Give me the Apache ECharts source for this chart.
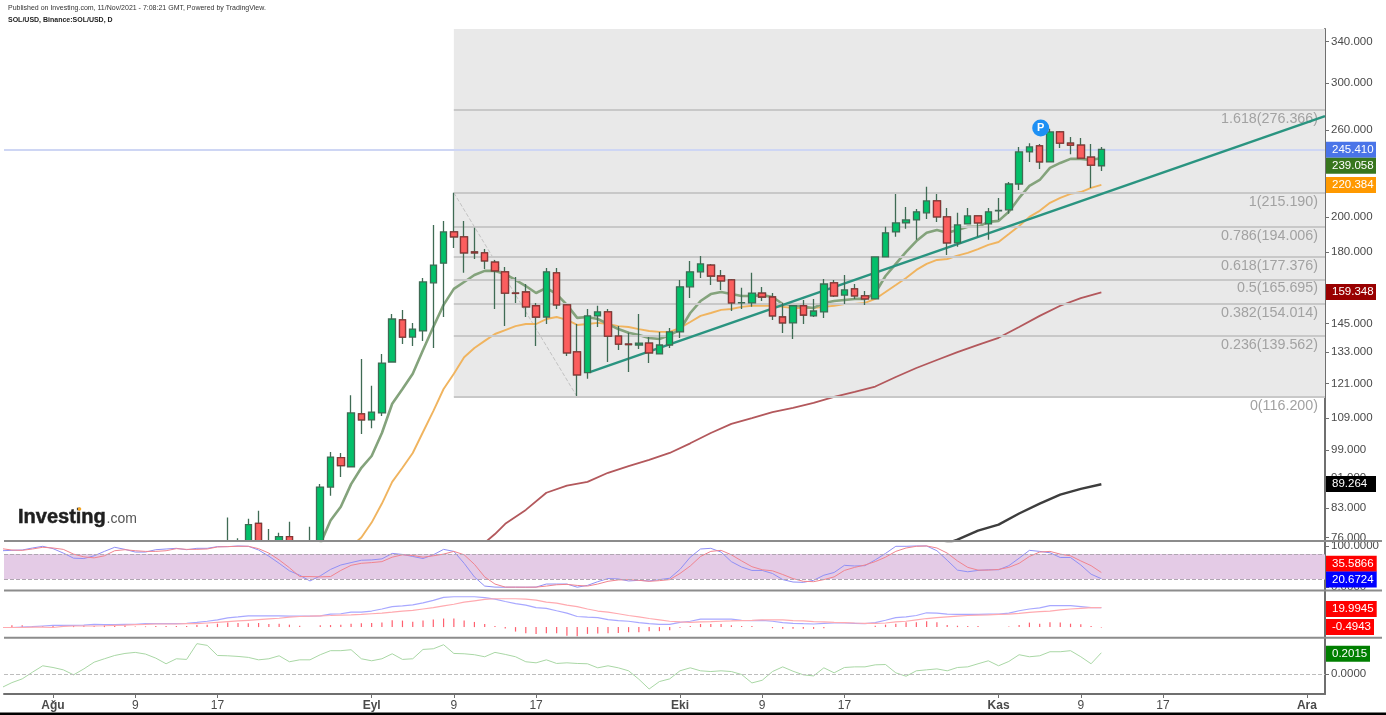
<!DOCTYPE html>
<html><head><meta charset="utf-8">
<style>html,body{margin:0;padding:0;background:#fff}#c{width:1386px;height:715px}</style>
<script src="https://cdn.jsdelivr.net/npm/echarts@6/dist/echarts.min.js"></script>
</head><body><div id="c"></div>
<script>
// ---- axis content
const dayTicks = [0,8,16,31,39,47,61,69,77,92,100,108,122];
const dayLabels = ['Ağu','9','17','Eyl','9','17','Eki','9','17','Kas','9','17','Ara'];
const priceTicks = [340,300,260,200,180,145,133,121,109,99,91,83,76];
// ---- candles: day (0 = 1 Aug), open, close, low, high
// the parts that run below the pane are not readable and stop at the pane floor (75.3)
const ohlc = [
[17,75.3,75.3,75.3,80.7],[18,75.3,75.3,75.3,75.8],[19,75.3,79,75.3,80.4],[20,79.3,75.3,75.3,82.4],[21,75.3,75.3,75.3,78],[22,75.3,76.2,75.3,77.1],[23,76.2,75.3,75.3,79.7],[25,75.3,75.3,75.3,78.5],
[26,75.3,88.5,75.3,89.3],[27,88.5,96.9,86.2,98.4],[28,96.7,94.4,91.2,98.1],[29,94.1,110.7,94,116.8],[30,110.4,108.4,103.9,130.3],[31,108.4,111,105.7,120.2],[32,110.7,128.7,109.7,132.3],[33,129.1,147,129.1,149.3],[34,146.6,139.2,136.3,151.1],[35,139.2,142.6,135.5,145.3],
[36,141.8,164.4,137.6,166.4],[37,164,173,134.7,195.3],[38,174,191.2,147.9,197.7],[39,191.2,188.4,182.2,215.2],[40,188.4,179.5,169,197.7],[41,180,179.5,176.2,193.6],[42,179.5,175.2,171,181.6],[43,174.6,170,151.5,175.7],[44,169.5,159,143.9,172],[45,159,158.8,154.3,166.9],
[46,159.5,152.5,147.9,163.4],[47,153,147.9,135.5,154.3],[48,147.9,169.5,144.8,171.5],[49,169,153.4,151.5,171.5],[50,153.4,132.7,131.5,153.8],[51,133.1,124.2,116.5,144.8],[52,125,148.4,122.7,151.5],[53,148.4,150.2,143.5,153],[54,150.2,139.6,129.1,151.5],[55,139.6,136.3,133.9,143.9],
[56,136.3,136.1,125.3,141],[57,135.9,136.7,134.3,149.3],[58,136.7,132.7,128.7,139.2],[59,132.3,135.9,132.3,141.4],[60,135.9,141.4,134.7,143.1],[61,141.4,162,138.8,165.4],[62,162,169.5,156.6,175.2],[63,169.5,173.6,166.4,177.8],[64,173,167.4,162.9,173.6],[65,167.4,164.9,160.5,170.5],
[66,165.4,154.3,150.6,165.9],[67,154.3,154.5,151.5,161.5],[68,154.3,159,152.5,169],[69,159,157.1,155.2,161.9],[70,157.1,148.4,146.6,159],[71,147.9,145.3,140.9,154.3],[72,145.3,153,138.4,153.4],[73,153,148.8,144.8,155.7],[74,148.4,150.6,147.9,156.2],[75,150.2,163.4,147.5,165.9],
[76,164,157.6,157.1,165.4],[77,158,160.5,153.8,167.9],[78,161,157.6,156.2,163.4],[79,157.6,156.2,153.4,160],[80,156.2,177.3,156.2,177.3],[81,177.3,190.7,177.3,194.2],[82,191.2,196.5,188.4,214.5],[83,196.5,198.3,193,206.2],[84,198.3,203.2,186.7,205],[85,202.6,210,198.9,219.1],
[86,210,200.1,197.1,214.5],[87,200.1,185,178.4,205.6],[88,185,195.3,182.8,202.6],[89,195.9,200.7,195.9,205.6],[90,200.7,196.5,188.4,200.7],[91,195.9,203.2,186.7,205.6],[92,203.8,204,198.3,211.9],[93,204.4,221,202,222.4],[94,221,243.5,217.1,247.2],[95,243.5,247.2,236.2,250],
[96,248,236.2,231.3,249.4],[97,236.2,258.6,236,261.1],[98,258.6,250,246.4,259.4],[99,250,248.5,241.8,254.6],[100,248.5,239,239,254],[101,239.7,233.9,218.4,249.4],[102,233.5,245.41,229.9,247.2]
];
// ---- moving averages
const fastMaStart = 26;
const fastMa = [74.5,80,83.4,89.3,93.8,97.2,104.2,113.8,119,124.6,133.9,143.5,153.4,161,
164.4,167.9,170,170,168.4,165.4,162.4,159,161.5,158.5,
153.4,147.5,147.9,147,144.8,142.6,141,140.1,138.8,138.4,
140.1,142.2,149.7,155.2,158.5,159.5,158.5,157.6,157.6,158,
157.1,153.8,153.4,152.5,152,154.3,155.2,155.7,156.2,156.2,
159,167.4,173.6,180,186,190.7,192.4,190.7,192.4,194.2,
194.2,197.1,197.7,203.2,211.9,219.8,223.7,232,235.5,238.4,
238.4,237.6,239.058];
const midMaStart = 29;
const midMa = [74,76,79.5,84.2,89.9,93.8,98.1,104.5,111.3,119,124.6,
131,134.7,137.6,140.5,142.2,143.9,144.8,144.8,147,147.9,
146.6,144.4,144.8,145.3,144.8,143.9,143.5,142.6,141.8,141.4,
141.4,143.1,145.7,148.4,149.7,151.1,151.5,152.5,153,153,
153,152.5,152,152,152,152.5,153,153.8,153.8,154.3,
156.2,159.5,162.9,166.4,170.5,173.6,175.7,176.2,178,179.5,
181.6,183.9,185.5,190,194.7,200.1,203.8,208.8,211.9,214.5,
215.7,218.4,220.384];
const slowMaDays = [42,43,44,46,48,50,52,54,56,58,60,62,64,66,68,70,72,74,76,78,80,82,84,86,88,90,92,94,96,98,100,102];
const slowMa = [74.8,76.8,79.2,82.6,87,88.9,89.9,92.4,94.3,96.1,98.1,101,104.2,107.1,109,111,112.4,114.1,116.2,118,119.9,123.4,126.8,129.9,133,136,138.9,143.5,148.4,153,156.6,159.348];
const longMaDays = [86,88,90,92,94,96,98,100,102];
const longMa = [73.9,75.5,77.6,79,81.7,84.2,86.5,88,89.264];
// ---- drawing tools
const fibRatios = ['1.618','1','0.786','0.618','0.5','0.382','0.236','0'];
const fibLevels = [276.366,215.19,194.006,177.376,165.695,154.014,139.562,116.2];
const fibStartDay = 39;
const fibSwing = [[39,215.19],[51,116.2]];
const trendLine = [[52.3,125.3],[123.76,271.3]];
const lastPrice = 245.41;
const pivotMark = [96.1,261.7];
// ---- indicators, first day = -5
const indicatorStart = -5;
const stochK = [88.2,89.1,89.9,94.8,98.9,93.2,82.5,70.2,69.3,75.9,
86.6,96.5,91.5,85,85,90.7,92.4,94,90.7,94,
94,98.1,98.1,99.7,98.9,89.9,75.1,57.8,39.7,29,
15.1,27.4,43,53.7,59.5,65.2,66,68.5,81.7,79.2,
74.3,69.3,78.4,91.5,86.6,57.8,24.9,2.8,0.3,0.1,
0.2,0.1,0.3,7.7,7.7,7.7,0.1,4.4,13.4,20.8,
20,15.1,16.7,15.1,18.4,21.7,43,72.6,92.4,94,
85,61.9,48.8,40.6,40.6,33.2,18.4,12.6,11.8,16.7,
29,35.6,52.9,51.3,52.1,66,81.7,98.9,98.9,99.7,
99.7,88.2,65.2,41.4,37.3,40.6,42.2,42.2,52.1,70.2,
89.1,86.6,83.3,71.8,71.8,53.7,31.5,20.6724];
const stochD = [93.2,89.9,89.1,92.4,96.5,94.8,91.5,80,73.4,71,
75.9,88.2,90.7,88.2,86.6,86.6,88.2,93.2,91.5,91.5,
92.4,97.3,98.1,98.9,98.9,93.2,82.5,66,47.1,25.8,
25.8,25,25.8,40.6,52.9,57.8,59.5,61.9,72.6,78.4,
76.7,72.6,75.9,80,86.6,78.4,55.4,25,7.7,0.3,
0.2,0.1,0.2,2.8,6,6.9,4.4,2.8,7.7,14.3,
17.6,18.4,16.7,14.3,15.9,18.4,33.2,51.3,74.3,86.6,
89.1,78.4,63.6,49.6,42.2,39.7,30.7,20.8,14.3,13.4,
18.4,25,40.6,48,53.7,61.9,72.6,86.6,94.8,98.9,
99.7,94.8,82.5,63.6,48,41.4,41.4,43,48,57.8,
74.3,85,86.6,80,75.9,63.6,52.1,35.5866];
const macdLine = [-0.4,-0.4,0,0.4,1.1,1.8,1.8,1.8,2.1,2.8,
2.5,2.5,2.8,2.8,3.5,3.5,3.5,3.5,3.9,4.9,
6,7.4,9.5,10.5,11.6,11.6,11.6,11.6,11.2,11.2,
11.2,11.6,13.3,13.7,15.4,15.4,16.5,18.6,21.1,21.8,
22.8,24.9,27.4,30.5,31.2,31.2,31.2,30.2,28.8,26.3,
24.2,22.5,20,19.3,16.8,14.4,10.9,10.2,9.8,7.7,
6.7,6,4.6,3.5,2.8,2.8,4.9,6,8.1,8.1,
8.1,8.1,7,6.7,7,6,4.6,3.9,3.5,3.2,
3.9,4.2,4.2,3.9,3.5,4.6,7,9.8,10.5,11.9,
14.7,14.4,13.3,13,13,13,13.3,13.3,14.4,16.8,
18.6,19.7,22.1,22.1,22.1,21.1,20,19.99];
const macdSignal = [-0.4,-0.4,-0.4,0,0,-0.4,0.7,1.1,1.1,1.1,
1.4,1.8,2.1,2.5,2.8,3.2,3.2,3.2,3.5,3.5,
4.2,4.9,5.6,6.3,7,7.7,8.4,9.1,10.2,10.9,
11.2,11.6,11.9,12.3,12.6,13,13.7,14.4,15.4,16.5,
17.2,18.6,20,21.8,23.5,25.6,27,28.4,29.1,29.1,
29.1,28.8,27.7,25.6,24.6,22.5,21.1,18.6,16.5,15.4,
13.7,11.9,10.5,8.8,7.4,6,5.3,4.9,5.3,5.6,
6,6.3,6.7,7,7.4,7.4,7.4,6.7,6.3,5.6,
5.3,4.9,4.6,4.2,3.9,3.9,4.2,5.3,6,7.4,
8.8,9.8,10.5,11.2,11.9,12.3,12.6,13,13.3,14,
15.1,15.8,16.5,17.6,18.6,19.3,20,19.9945];
const macdHist = [0,1.8,1.8,1.1,1.1,1.8,1.8,1.8,1.8,1.1,
1.8,1.8,1.8,0.7,0.7,1.1,1.1,1.1,1.1,2.1,
2.5,3.5,4.6,4.2,3.9,4.2,3.2,3.5,2.5,1.4,
0,1.8,2.1,2.5,3.5,3.9,4.2,4.6,7,6.7,
5.6,6.7,7.7,8.8,8.8,6.7,5.3,3.2,1.1,-1.4,
-4.6,-6.3,-7,-6.3,-6.3,-8.8,-9.5,-7,-6.7,-6.3,
-6,-5.3,-5.3,-4.2,-4.2,-3.2,-0.7,1.1,3.2,3.2,
3.2,1.8,1.1,1.1,0,-1.1,-1.8,-1.8,-1.8,-1.8,
-1.1,0,0,0,0,1.4,2.5,3.5,4.9,4.9,
6,4.9,2.1,1.4,1.1,1.1,0,0,0.7,2.1,
4.6,3.5,4.9,4.6,3.5,2.8,1.1,-0.4943];
const momentum = [-0.126,-0.079,-0.044,0.019,0.079,0.063,0.041,-0.006,0.05,0.113,
0.145,0.176,0.195,0.205,0.189,0.151,0.098,0.145,0.139,0.287,
0.271,0.176,0.173,0.167,0.158,0.135,0.145,0.173,0.117,0.135,
0.135,0.183,0.221,0.221,0.23,0.145,0.126,0.145,0.192,0.139,
0.145,0.233,0.239,0.277,0.195,0.192,0.183,0.164,0.205,0.186,
0.164,0.117,0.107,0.135,0.101,0.107,0.101,0.098,0.06,0.079,
0.06,0.032,-0.047,-0.139,-0.069,-0.044,0.032,0.06,0.032,0.025,
0.032,0.025,-0.003,-0.082,-0.057,0.025,0.069,0.028,-0.006,-0.016,
0.06,0.013,0.063,0.069,0.069,0.088,0.091,0.013,-0.019,0.032,
0.041,0.05,0.032,0.063,0.069,0.098,0.126,0.079,0.12,0.183,
0.164,0.173,0.211,0.211,0.221,0.164,0.098,0.2015];
// ---- price tags
const tagTexts = ['245.410','239.058','220.384','159.348','89.264','35.5866','20.6724','19.9945','-0.4943','0.2015'];

// ---- layout
const F = '"Liberation Sans", Arial, sans-serif';
const xMin = -4.77, xMax = 123.76;
const gridL = 4, gridW = 1321;
const AXC = '#6f6f6f', TXT = '#4a4a4a';
const panes = [[29,541],[541,590.5],[590.5,637.7],[637.7,694]];
const grids = panes.map(p => ({left:gridL, width:gridW, top:p[0], height:p[1]-p[0], show:false}));
const xAxes = panes.map((p,i) => ({
  type:'value', gridIndex:i, min:xMin, max:xMax, show:i===3, splitLine:{show:false}, position:'bottom',
  axisLine:{onZero:false, lineStyle:{color:AXC,width:2}},
  axisTick:i===3?{customValues:dayTicks,length:4,lineStyle:{color:AXC,width:1}}:{show:false},
  axisLabel:i===3?{customValues:dayTicks,margin:6,fontFamily:F,fontSize:12,color:TXT,
    formatter:v=>{const l=dayLabels[dayTicks.indexOf(v)]||'';return /\d/.test(l)?l:'{b|'+l+'}';},
    rich:{b:{fontFamily:F,fontSize:12,fontWeight:'bold',color:TXT}},hideOverlap:false}:{show:false}
}));
function yAxis(i,min,max,ticks,fmt,type){
  return {type:type||'value',gridIndex:i,min,max,position:'right',scale:true,splitLine:{show:false},
    logBase:type==='log'?Math.E:undefined,
    axisLine:{show:true,onZero:false,lineStyle:{color:AXC,width:2}},
    axisTick:ticks?{show:true,customValues:ticks,length:4,lineStyle:{color:AXC,width:1}}:{show:false},
    axisLabel:ticks?{show:true,customValues:ticks,margin:6,fontFamily:F,fontSize:11.5,color:TXT,formatter:fmt,hideOverlap:false}:{show:false}};
}
const yAxes = [
  yAxis(0,75.2,352.9,priceTicks,v=>Number(v).toFixed(3),'log'),
  yAxis(1,-7.9,111.7,[0,100],v=>Number(v).toFixed(4)),
  yAxis(2,-10.9,37.6,null),
  yAxis(3,-0.186,0.343,[0],v=>Number(v).toFixed(4))
];
const daily = (arr,start) => arr.map((v,i)=>[start+i,v]);
const paired = (days,arr) => arr.map((v,i)=>[days[i],v]);
function line(name,data,color,width,gi,z,extra){
  return Object.assign({name,type:'line',data,xAxisIndex:gi,yAxisIndex:gi,showSymbol:false,symbol:'none',silent:true,z,
    lineStyle:{color,width},animation:false},extra||{});
}
const fibLines = fibLevels.map((l,i)=>[
  {coord:[fibStartDay,l],name:fibRatios[i]+'('+l.toFixed(3)+')'},
  {coord:[xMax,l]}
]);
const UPW='#3f6b54', DNB='#8a3535';
const series = [
  line('fib',[],'#ccc',1,0,1,{
    markArea:{silent:true,itemStyle:{color:'#e9e9e9'},data:[[{coord:[fibStartDay,352.9]},{coord:[xMax,fibLevels[7]]}]]},
    markLine:{silent:true,symbol:'none',animation:false,lineStyle:{color:'#c8c8c8',width:2,type:'solid'},
      label:{show:true,position:'insideEndBottom',distance:[7,2],formatter:'{b}',fontFamily:F,fontSize:14.3,color:'#a2a2a2'},
      data:fibLines}
  }),
  line('last',[],'#ccc',1,0,2,{markLine:{silent:true,symbol:'none',animation:false,lineStyle:{color:'#ced6f4',width:2,type:'solid'},label:{show:false},data:[[{coord:[xMin,lastPrice]},{coord:[xMax,lastPrice]}]]}}),
  line('swing',fibSwing,'#c2c2c2',1,0,3,{lineStyle:{color:'#c2c2c2',width:1,type:'dashed'}}),
  line('slow',paired(slowMaDays,slowMa),'#b3585c',1.8,0,4),
  line('long',paired(longMaDays,longMa),'#3d3d3d',2.4,0,4),
  line('mid',daily(midMa,midMaStart),'#f0b45f',1.9,0,4),
  line('fast',daily(fastMa,fastMaStart),'#84a37c',2.6,0,4),
  line('trend',trendLine,'#2a9480',2.5,0,5),
  {type:'candlestick',name:'wick',xAxisIndex:0,yAxisIndex:0,z:6,barWidth:7,data:ohlc,encode:{x:0,y:[1,2,3,4]},silent:true,animation:false,
   itemStyle:{color:'#03c06a',color0:'#fb5e5e',borderColor:UPW,borderColor0:UPW,borderWidth:1.3}},
  {type:'candlestick',name:'down',xAxisIndex:0,yAxisIndex:0,z:7,barWidth:7,
   data:ohlc.filter(r=>r[2]<r[1]).map(r=>[r[0],r[1],r[2],r[2],r[1]]),encode:{x:0,y:[1,2,3,4]},silent:true,animation:false,
   itemStyle:{color:'#fb5e5e',color0:'#fb5e5e',borderColor:DNB,borderColor0:DNB,borderWidth:1.3}},
  {type:'scatter',name:'P',xAxisIndex:0,yAxisIndex:0,z:8,data:[pivotMark],symbolSize:17,silent:true,animation:false,
   itemStyle:{color:'#1e90f4',opacity:1},label:{show:true,position:'inside',formatter:'P',color:'#fff',fontFamily:F,fontWeight:'bold',fontSize:11}},
  line('K',daily(stochK,indicatorStart),'#8f8ff5',1,1,3,{
    markArea:{silent:true,itemStyle:{color:'#e4cbe6'},data:[[{coord:[xMin,80]},{coord:[xMax,20]}]]},
    markLine:{silent:true,symbol:'none',animation:false,label:{show:false},lineStyle:{color:'#b0a6b2',width:1,type:'dashed'},data:[[{coord:[xMin,80]},{coord:[xMax,80]}],[{coord:[xMin,20]},{coord:[xMax,20]}]]}
  }),
  line('D',daily(stochD,indicatorStart),'#f0848f',1,1,3),
  {type:'bar',name:'hist',xAxisIndex:2,yAxisIndex:2,data:daily(macdHist,indicatorStart),barWidth:1.2,silent:true,animation:false,itemStyle:{color:'#ff5f6e'},z:2},
  line('macd',daily(macdLine,indicatorStart),'#a8a8ff',1.2,2,3),
  line('signal',daily(macdSignal,indicatorStart),'#ffaab0',1.2,2,3),
  line('mom',daily(momentum,indicatorStart),'#a9d7a5',1,3,3,{
    markLine:{silent:true,symbol:'none',animation:false,label:{show:false},lineStyle:{color:'#bdbdbd',width:1,type:'dashed'},data:[[{coord:[xMin,0]},{coord:[xMax,0]}]]}
  })
];
// tags and frame
const tagBox = [[141.7,16,1376,'#4a74e8'],[157.7,16,1376,'#38761d'],[177,16,1376,'#ff9900'],[284,16,1376,'#990000'],[476,16,1376,'#000000'],[555.7,16,1376.7,'#ff0000'],[571.5,16,1376.7,'#0000ff'],[601,16,1376.7,'#ff0000'],[619,16,1374,'#ff0000'],[645.7,16,1370,'#007f00']];
const graphic = [];
[541,590.5,637.7].forEach(y=>graphic.push({type:'line',z:20,shape:{x1:4,y1:y,x2:1382,y2:y},style:{stroke:'#8c8c8c',lineWidth:2}}));
graphic.push({type:'rect',z:20,shape:{x:0,y:712.5,width:1386,height:3},style:{fill:'#000'}});
tagTexts.forEach((t,i)=>{
  const b=tagBox[i];
  graphic.push({type:'rect',z:30,shape:{x:1326,y:b[0],width:b[2]-1326,height:b[1]},style:{fill:b[3]}});
  graphic.push({type:'text',z:31,x:1332,y:b[0]+b[1]/2,style:{text:t,fill:'#fff',font:'11.5px '+F,textVerticalAlign:'middle'}});
});
graphic.push({type:'text',z:30,x:18,y:517,style:{text:'Investing',fill:'#1f1f1f',stroke:'#1f1f1f',lineWidth:0.5,font:'bold 20px '+F,textVerticalAlign:'middle'}});
graphic.push({type:'text',z:30,x:106.5,y:519.5,style:{text:'.com',fill:'#555',font:'14px '+F,textVerticalAlign:'middle'}});
graphic.push({type:'circle',z:31,shape:{cx:79.5,cy:509,r:1.8},style:{fill:'#f5a623'}});
const chart = echarts.init(document.getElementById('c'),null,{renderer:'canvas'});
chart.setOption({
  animation:false,backgroundColor:'#fff',
  title:[
    {text:'Published on Investing.com, 11/Nov/2021 - 7:08:21 GMT, Powered by TradingView.',left:8,top:5,padding:0,textStyle:{fontFamily:F,fontSize:7,fontWeight:'normal',color:'#333'}},
    {text:'SOL/USD, Binance:SOL/USD, D',left:8,top:17,padding:0,textStyle:{fontFamily:F,fontSize:7,fontWeight:'bold',color:'#222'}}
  ],
  tooltip:{show:false},legend:{show:false},
  grid:grids,xAxis:xAxes,yAxis:yAxes,series,graphic
});
</script></body></html>
